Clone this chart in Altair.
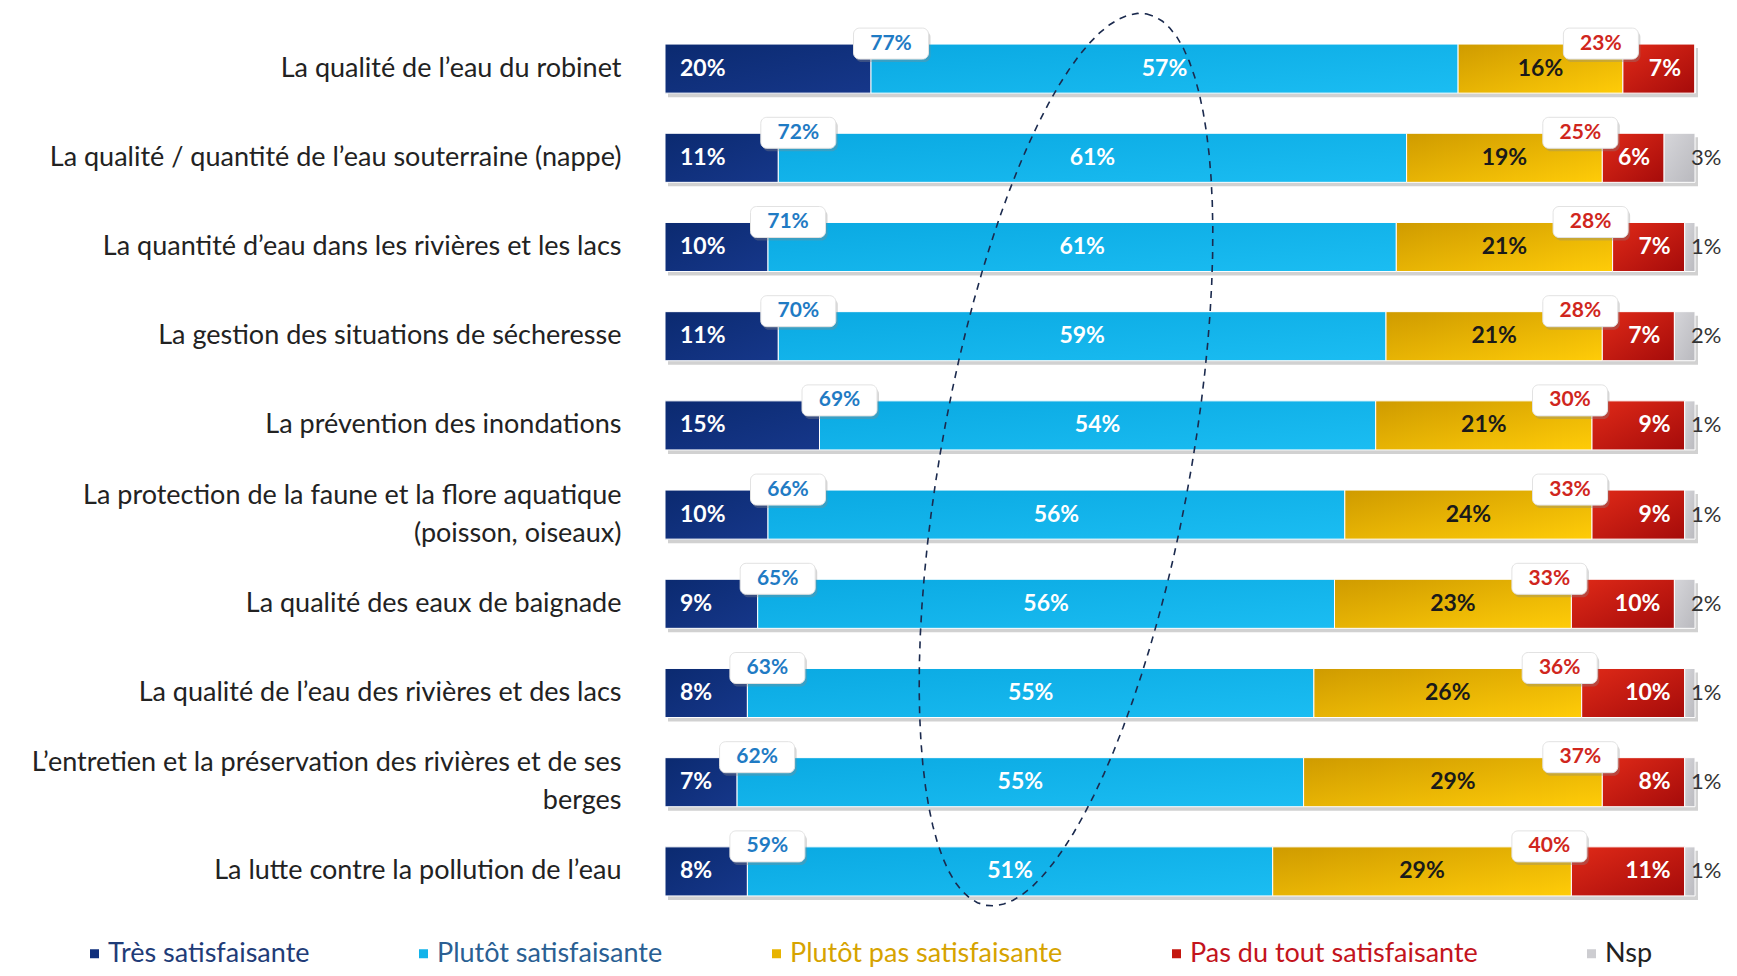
import altair as alt
import pandas as pd

categories = [
    "La qualité de l’eau du robinet",
    "La qualité / quantité de l’eau souterraine (nappe)",
    "La quantité d’eau dans les rivières et les lacs",
    "La gestion des situations de sécheresse",
    "La prévention des inondations",
    "La protection de la faune et la flore aquatique|(poisson, oiseaux)",
    "La qualité des eaux de baignade",
    "La qualité de l’eau des rivières et des lacs",
    "L’entretien et la préservation des rivières et de ses|berges",
    "La lutte contre la pollution de l’eau",
]
series = ["Très satisfaisante", "Plutôt satisfaisante", "Plutôt pas satisfaisante",
          "Pas du tout satisfaisante", "Nsp"]
tres = [20, 11, 10, 11, 15, 10, 9, 8, 7, 8]
plutot = [57, 61, 61, 59, 54, 56, 56, 55, 55, 51]
plutot_pas = [16, 19, 21, 21, 21, 24, 23, 26, 29, 29]
pas_du_tout = [7, 6, 7, 7, 9, 9, 10, 10, 8, 11]
nsp = [0, 3, 1, 2, 1, 1, 2, 1, 1, 1]
total_satisf = [77, 72, 71, 70, 69, 66, 65, 63, 62, 59]
total_insatisf = [23, 25, 28, 28, 30, 33, 33, 36, 37, 40]

flat_colors = ["#0f2f7c", "#12b3ea", "#e8b400", "#c4170f", "#cdcdd1"]
gradients = [
    ("#0b2a70", "#16378a"),
    ("#0aa9e2", "#1bbdf2"),
    ("#cf9b00", "#ffcc08"),
    ("#e02a18", "#a50b0a"),
    ("#d6d6da", "#b9b9be"),
]

values = [tres, plutot, plutot_pas, pas_du_tout, nsp]
rows = []
for i, cat in enumerate(categories):
    start = 0
    for s, vals in zip(series, values):
        v = vals[i]
        rows.append({"cat": cat, "series": s, "value": v, "start": start,
                     "end": start + v, "mid": start + v / 2, "label": f"{v}%"})
        start += v
df = pd.DataFrame(rows)

tot = pd.DataFrame({
    "cat": categories,
    "total": [sum(v[i] for v in values) for i in range(len(categories))],
    "bnd_sat": tres,
    "bnd_ins": [tres[i] + plutot[i] + plutot_pas[i] for i in range(len(categories))],
    "sat": [f"{v}%" for v in total_satisf],
    "ins": [f"{v}%" for v in total_insatisf],
})

FONT = "Lato"
yenc = alt.Y("cat:N", sort=categories,
             scale=alt.Scale(domain=categories, paddingInner=0.45, paddingOuter=0.225),
             axis=alt.Axis(title=None, domain=False, ticks=False, labelFont=FONT,
                           labelFontSize=27, labelColor="#222222", labelPadding=44,
                           labelLimit=800, labelExpr="split(datum.label, '|')",
                           labelLineHeight=38,
                           labelOffset={"condition": {"test": "indexof(datum.value, '|') >= 0",
                                                      "value": -19},
                                        "value": 0}))
xscale = alt.Scale(domain=[0, 100], nice=False, zero=True)

base = alt.Chart(df)

shadow = alt.Chart(tot).mark_bar(color="#9a9a9a", opacity=0.45, xOffset=3, yOffset=4).encode(
    x=alt.X("total:Q", scale=xscale, axis=None), y=yenc)

legend_layer = base.mark_bar(opacity=0).encode(
    x=alt.X("start:Q", scale=xscale, axis=None), x2="end:Q", y=yenc,
    color=alt.Color("series:N", scale=alt.Scale(domain=series, range=flat_colors),
                    legend=alt.Legend(
                        title=None, orient="none", legendX=-584, legendY=916,
                        direction="horizontal", symbolType="square", symbolSize=81,
                        symbolOpacity=1, symbolStrokeWidth=0, labelFont=FONT,
                        labelFontSize=27, columnPadding=100, labelOffset=0, padding=0,
                        labelLimit=500,
                        labelColor=alt.ExprRef(expr=(
                            "datum.label == 'Très satisfaisante' ? '#1f3c78' : "
                            "datum.label == 'Plutôt satisfaisante' ? '#2a5f93' : "
                            "datum.label == 'Plutôt pas satisfaisante' ? '#d6a300' : "
                            "datum.label == 'Pas du tout satisfaisante' ? '#c3141c' : '#222222'"))
                    )))

bar_layers = []
for s, (c1, c2) in zip(series, gradients):
    grad = alt.LinearGradient(gradient="linear",
                              stops=[alt.GradientStop(color=c1, offset=0),
                                     alt.GradientStop(color=c2, offset=1)],
                              x1=0, x2=1, y1=0, y2=1)
    bar_layers.append(
        base.transform_filter(alt.datum.series == s).mark_bar(
            color=grad, stroke="white", strokeWidth=1).encode(
            x=alt.X("start:Q", scale=xscale, axis=None), x2="end:Q", y=yenc))

def seg_text(s, xfield, align, dx, color, weight="bold", size=23):
    return base.transform_filter(
        (alt.datum.series == s) & (alt.datum.value > 0)).mark_text(
        align=align, baseline="middle", dx=dx, font=FONT, fontSize=size,
        fontWeight=weight, color=color).encode(
        x=alt.X(f"{xfield}:Q", scale=xscale, axis=None), y=yenc, text="label:N")

texts = [
    seg_text(series[0], "start", "left", 15, "white"),
    seg_text(series[1], "mid", "center", 0, "white"),
    seg_text(series[2], "mid", "center", 0, "#1a1a1a"),
    seg_text(series[3], "end", "right", -14, "white"),
    seg_text(series[4], "end", "left", -4, "#333333", weight="normal", size=22),
]

tb = alt.Chart(tot)
BOX_DY = -25

def box(field, dx, tcolor, tfield):
    sh = tb.mark_rect(width=75, height=31, cornerRadius=6, color="#8a8a8a", opacity=0.35,
                      xOffset=dx + 2, yOffset=BOX_DY + 3).encode(
        x=alt.X(f"{field}:Q", scale=xscale, axis=None), y=yenc)
    bx = tb.mark_rect(width=75, height=31, cornerRadius=6, color="white",
                      stroke="#e2e2e2", strokeWidth=1, xOffset=dx, yOffset=BOX_DY).encode(
        x=alt.X(f"{field}:Q", scale=xscale, axis=None), y=yenc)
    tx = tb.mark_text(dx=dx, dy=BOX_DY, font=FONT, fontSize=21, fontWeight="bold",
                      color=tcolor, align="center", baseline="middle").encode(
        x=alt.X(f"{field}:Q", scale=xscale, axis=None), y=yenc, text=f"{tfield}:N")
    return [sh, bx, tx]

boxes = box("bnd_sat", 20, "#1f7bc4", "sat") + box("bnd_ins", -22, "#d0261d", "ins")

# dashed tilted ellipse highlighting the "Plutôt satisfaisante" column
ellipse = alt.Chart(alt.sequence(0, 364, 4, as_="deg")).transform_calculate(
    t="datum.deg * PI / 180"
).transform_calculate(
    ex="(401 + 453 * cos(datum.t) * 0.177 + 125 * sin(datum.t) * 0.984) / 10.3",
    ey="435.6 - 453 * cos(datum.t) * 0.984 + 125 * sin(datum.t) * 0.177",
).mark_line(stroke="#1b2a4e", strokeWidth=1.6, strokeDash=[7, 6], clip=False).encode(
    x=alt.X("ex:Q", scale=xscale, axis=None),
    y=alt.Y("ey:Q", scale=alt.Scale(domain=[0, 892], reverse=True, nice=False, zero=False),
            axis=None),
    order="deg:Q",
)

main = alt.layer(shadow, legend_layer, *bar_layers, *texts, *boxes)
chart = alt.layer(main, ellipse).resolve_scale(y="independent").properties(
    width=1030, height=892,
    autosize=alt.AutoSizeParams(type="none"),
    padding={"left": 657, "top": 16, "right": 26, "bottom": 52},
    background="white",
).configure_view(stroke=None)

chart.save("out.html", embed_options={"renderer": "svg", "actions": False})
